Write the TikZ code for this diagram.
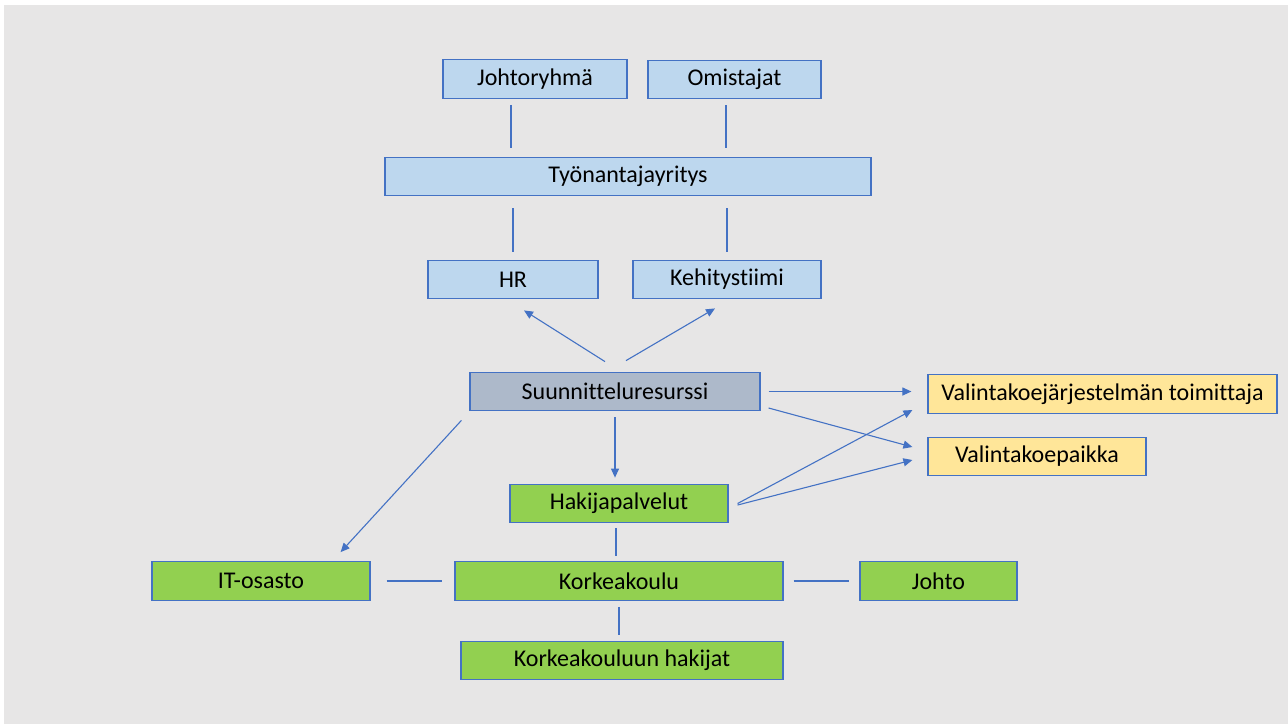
\documentclass[tikz,border=0pt]{standalone}
\usepackage{fontspec}
\setmainfont{Carlito}[Ligatures=NoCommon]
\usetikzlibrary{arrows.meta}

\definecolor{linkblue}{HTML}{4472C4}
\definecolor{orgblue}{HTML}{BDD7EE}
\definecolor{resgray}{HTML}{ADB9CA}
\definecolor{extyellow}{HTML}{FFE699}
\definecolor{schgreen}{HTML}{92D050}
\definecolor{slidebg}{HTML}{E7E6E6}

\tikzset{
	box/.style={draw=linkblue, line width=0.6pt, inner sep=0pt, minimum height=19.3pt, font=\fontsize{12}{14}\selectfont},
	org/.style={box, fill=orgblue},
	res/.style={box, fill=resgray},
	ext/.style={box, fill=extyellow},
	sch/.style={box, fill=schgreen},
	link/.style={draw=linkblue, line width=0.55pt},
	arr/.style={link, -{Triangle[length=4.5pt,width=4pt]}},
}

\begin{document}
\begin{tikzpicture}[x=0.5pt,y=-0.5pt]

	%Frame
	\useasboundingbox (0,0) rectangle (1288,724);
	\fill[white] (0,0) rectangle (1288,724);
	\fill[slidebg] (4,5) rectangle (1288,724);

	%Employer side
	\node[org, minimum width=92pt] (jr) at (535,79) {Johtoryhmä};
	\node[org, minimum width=86.5pt] (om) at (734.5,79.5) {Omistajat};
	\node[org, minimum width=243pt] (ty) at (628,176.5) {Työnantajayritys};
	\node[org, minimum width=85pt] (hr) at (513,279.5) {HR};
	\node[org, minimum width=94pt] (kt) at (727,279.5) {Kehitystiimi};

	%Resource
	\node[res, minimum width=145pt] (su) at (615,391.5) {Suunnitteluresurssi};

	%Suppliers
	\node[ext, minimum width=174.5pt] (vj) at (1102.5,394) {Valintakoejärjestelmän toimittaja};
	\node[ext, minimum width=109pt] (vp) at (1037,456.5) {Valintakoepaikka};

	%University side
	\node[sch, minimum width=109pt] (hp) at (619,503.5) {Hakijapalvelut};
	\node[sch, minimum width=109pt] (it) at (261,581) {IT-osasto};
	\node[sch, minimum width=164pt] (kk) at (619,581) {Korkeakoulu};
	\node[sch, minimum width=78.5pt] (jo) at (938.5,581) {Johto};
	\node[sch, minimum width=161pt] (kh) at (622,660.5) {Korkeakouluun hakijat};

	%Lines
	\draw[link, shorten <=3pt, shorten >=4.5pt] ([xshift=-12pt]jr.south) -- ([xshift=-12pt]jr.south |- ty.north);
	\draw[link, shorten <=3pt, shorten >=4.5pt] ([xshift=-4.25pt]om.south) -- ([xshift=-4.25pt]om.south |- ty.north);
	\draw[link, shorten <=6pt, shorten >=4pt] (hr.north |- ty.south) -- (hr.north);
	\draw[link, shorten <=6pt, shorten >=4pt] (kt.north |- ty.south) -- (kt.north);
	\draw[link, shorten <=2.5pt, shorten >=2.5pt] ([xshift=-1.5pt]hp.south) -- ([xshift=-1.5pt]hp.south |- kk.north);
	\draw[link, shorten <=8pt, shorten >=6pt] (it.east) -- (kk.west);
	\draw[link, shorten <=5pt, shorten >=5pt] (kk.east) -- (jo.east -| jo.west);
	\draw[link, shorten <=3pt, shorten >=3pt] (kk.south) -- (kk.south |- kh.north);

	%Arrows
	\draw[arr] ([xshift=-5pt,yshift=5pt]su.north) -- ([xshift=5.5pt,yshift=-5.5pt]hr.south);
	\draw[arr] ([xshift=5.5pt,yshift=5.5pt]su.north) -- ([xshift=-6pt,yshift=-4.5pt]kt.south);
	\draw[arr, shorten <=4pt, shorten >=8pt] (su.east) -- (su.east -| vj.west);
	\draw[arr] ([xshift=4pt,yshift=-8.25pt]su.east) -- ([xshift=-7.5pt,yshift=4.75pt]vp.west);
	\draw[arr, shorten <=3pt, shorten >=3pt] (su.south) -- (su.south |- hp.north);
	\draw[arr] ([xshift=-4pt,yshift=-4.5pt]su.south west) -- ([xshift=-15pt,yshift=4.5pt]it.north east);
	\draw[arr] ([xshift=4.5pt]hp.east) -- ([xshift=-7.5pt,yshift=-8pt]vj.west);
	\draw[arr] ([xshift=4.5pt,yshift=-0.75pt]hp.east) -- ([xshift=-7.5pt,yshift=-1.75pt]vp.west);

\end{tikzpicture}
\end{document}
